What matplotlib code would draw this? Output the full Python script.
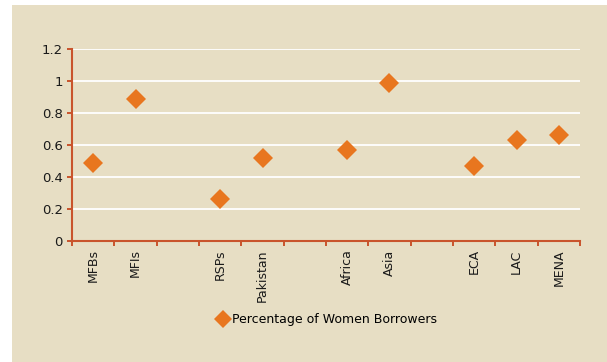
import matplotlib
matplotlib.use("Agg")
import matplotlib.pyplot as plt
from matplotlib.patches import Rectangle
from matplotlib.lines import Line2D
import numpy as np

categories = ["MFBs", "MFIs", "", "RSPs", "Pakistan", "", "Africa", "Asia", "", "ECA", "LAC", "MENA"]
values = [0.49, 0.89, None, 0.26, 0.52, None, 0.57, 0.99, None, 0.47, 0.63, 0.66]
yticks = [0, 0.2, 0.4, 0.6, 0.8, 1, 1.2]
ytick_labels = ["0", "0.2", "0.4", "0.6", "0.8", "1", "1.2"]
series_name = "Percentage of Women Borrowers"

bg = "#E7DEC4"
spine_c = "#C9542C"
marker_c = "#E8761F"

fig = plt.figure(figsize=(6.07, 3.62), dpi=100)
fig.patch.set_facecolor("white")
fig.patches.append(Rectangle((12/607, 0), 1 - 12/607, 1 - 5/362, transform=fig.transFigure,
                             facecolor=bg, edgecolor="none", zorder=-5))

ax = fig.add_axes([72/607, 1 - 241/362, (580 - 72)/607, (241 - 49)/362])
ax.set_zorder(2)
ax.patch.set_alpha(0)

xs = [i + 0.5 for i, v in enumerate(values) if v is not None]
ys = [v for v in values if v is not None]
ax.plot(xs, ys, linestyle="none", marker="D", markersize=10, color=marker_c,
        markeredgewidth=0, zorder=3, clip_on=False)

ax.set_xlim(0, len(categories))
ax.set_ylim(0, 1.2)
ax.set_yticks(yticks)
ax.set_yticklabels(ytick_labels, fontsize=9.5, color="#1a1a1a")
for y in yticks[1:]:
    ax.axhline(y, color="white", linewidth=1.3, zorder=1)

ax.set_xticks(np.arange(0, len(categories) + 1))
ax.set_xticklabels([])
ax.set_xticks([i + 0.5 for i in range(len(categories))], minor=True)
ax.set_xticklabels(categories, minor=True, rotation=90, fontsize=9, color="#1a1a1a")
ax.tick_params(axis="x", which="minor", length=0, pad=6)
ax.tick_params(axis="x", which="major", length=3.5, width=1.4, color=spine_c, direction="out")
ax.tick_params(axis="y", length=3.5, width=1.4, color=spine_c, direction="out", pad=3)

for s in ["top", "right"]:
    ax.spines[s].set_visible(False)
for s in ["left", "bottom"]:
    ax.spines[s].set_color(spine_c)
    ax.spines[s].set_linewidth(1.5)

handle = Line2D([], [], linestyle="none", marker="D", markersize=9, color=marker_c, markeredgewidth=0)
leg = fig.legend([handle], [series_name], loc="center", bbox_to_anchor=(326/607, 1 - 320/362),
                 frameon=False, fontsize=9, handletextpad=0.1, handlelength=1.2)
leg.set_zorder(3)

fig.savefig("out.png", dpi=100, facecolor=fig.get_facecolor())
